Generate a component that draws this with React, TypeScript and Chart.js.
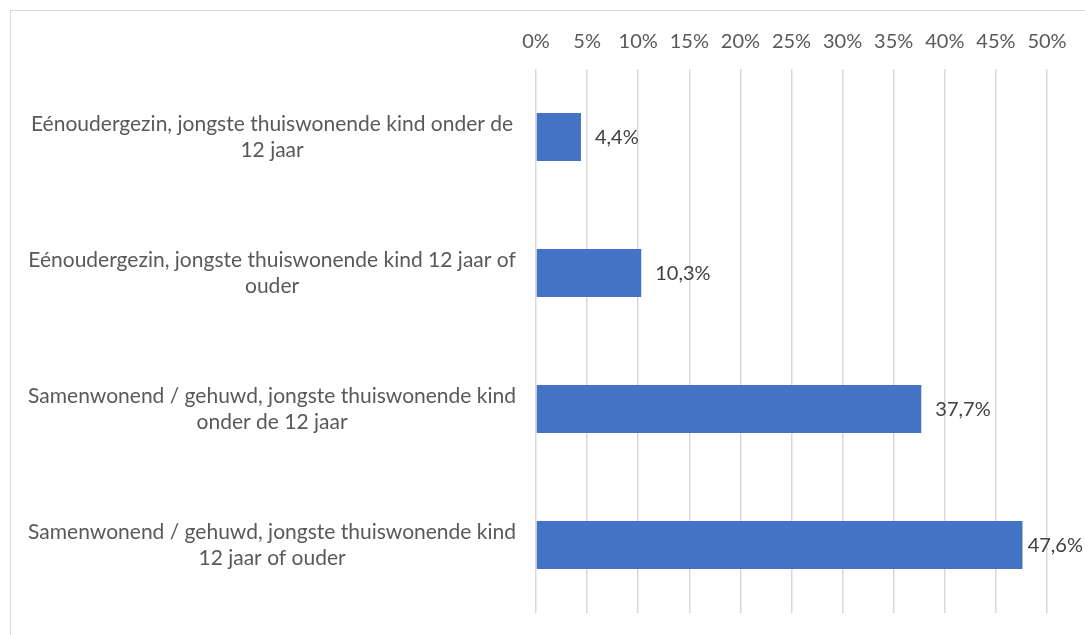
import React, { useEffect, useRef } from "react";
import { Chart, registerables } from "chart.js";

Chart.register(...registerables);

const categories: string[][] = [
  ["Eénoudergezin, jongste thuiswonende kind onder de", "12 jaar"],
  ["Eénoudergezin, jongste thuiswonende kind 12 jaar of", "ouder"],
  ["Samenwonend / gehuwd, jongste thuiswonende kind", "onder de 12 jaar"],
  ["Samenwonend / gehuwd, jongste thuiswonende kind", "12 jaar of ouder"],
];
const values: number[] = [4.4, 10.3, 37.7, 47.6];
const valueLabels: string[] = ["4,4%", "10,3%", "37,7%", "47,6%"];
const tickValues: number[] = [0, 5, 10, 15, 20, 25, 30, 35, 40, 45, 50];

const FONT = "Lato, 'Liberation Sans', sans-serif";

const valueLabelPlugin = {
  id: "valueLabels",
  afterDatasetsDraw(chart: any) {
    const ctx = chart.ctx;
    const meta = chart.getDatasetMeta(0);
    ctx.save();
    ctx.font = `20px ${FONT}`;
    ctx.fillStyle = "#404040";
    ctx.textBaseline = "middle";
    ctx.textAlign = "left";
    meta.data.forEach((bar: any, i: number) => {
      const text = valueLabels[i];
      const w = ctx.measureText(text).width;
      let x = bar.x + 14;
      if (x + w > chart.width - 2) x = chart.width - 2 - w;
      ctx.fillText(text, x, bar.y + 1);
    });
    ctx.restore();
  },
};

export default function App() {
  const canvasRef = useRef<HTMLCanvasElement | null>(null);

  useEffect(() => {
    const canvas = canvasRef.current;
    if (!canvas) return;
    const chart = new Chart(canvas, {
      type: "bar",
      data: {
        labels: categories,
        datasets: [
          {
            data: values,
            backgroundColor: "#4472c4",
            borderWidth: 0,
            barPercentage: 0.352,
            categoryPercentage: 1,
          },
        ],
      },
      options: {
        indexAxis: "y",
        animation: false,
        responsive: false,
        devicePixelRatio: 1,
        layout: { padding: { left: 0, right: 38, top: 15, bottom: 22 } },
        plugins: {
          legend: { display: false },
          tooltip: { enabled: false },
          title: { display: false },
        },
        scales: {
          x: {
            position: "top",
            min: 0,
            max: 50,
            afterBuildTicks: (scale: any) => {
              scale.ticks = tickValues.map((v) => ({ value: v }));
            },
            afterFit: (scale: any) => {
              scale.paddingLeft = 0;
              scale.paddingRight = 0;
            },
            ticks: {
              color: "#595959",
              font: { family: FONT, size: 20, lineHeight: 1.2 },
              padding: 15,
              callback: (v: any) => `${v}%`,
              maxRotation: 0,
            },
            grid: {
              color: "#d9d9d9",
              lineWidth: 1.5,
              drawTicks: false,
            },
            border: { display: false },
          },
          y: {
            afterFit: (scale: any) => {
              scale.width = 536;
              scale.paddingTop = 0;
              scale.paddingBottom = 0;
            },
            ticks: {
              color: "#595959",
              font: { family: FONT, size: 21, lineHeight: 1.24 },
              crossAlign: "center",
              padding: 20,
            },
            grid: { display: false, drawTicks: false },
            border: { display: false },
          },
        },
      },
      plugins: [valueLabelPlugin],
    });
    return () => chart.destroy();
  }, []);

  return (
    <div
      style={{
        position: "fixed",
        left: 0,
        top: 0,
        width: 1085,
        height: 635,
        overflow: "hidden",
        background: "#ffffff",
      }}
    >
      <div
        style={{
          position: "absolute",
          left: 10,
          top: 10,
          width: 1100,
          height: 660,
          border: "1px solid #d9d9d9",
          boxSizing: "border-box",
        }}
      />
      <canvas
        ref={canvasRef}
        width={1085}
        height={635}
        style={{ position: "absolute", left: 0, top: 0, width: 1085, height: 635 }}
      />
    </div>
  );
}
